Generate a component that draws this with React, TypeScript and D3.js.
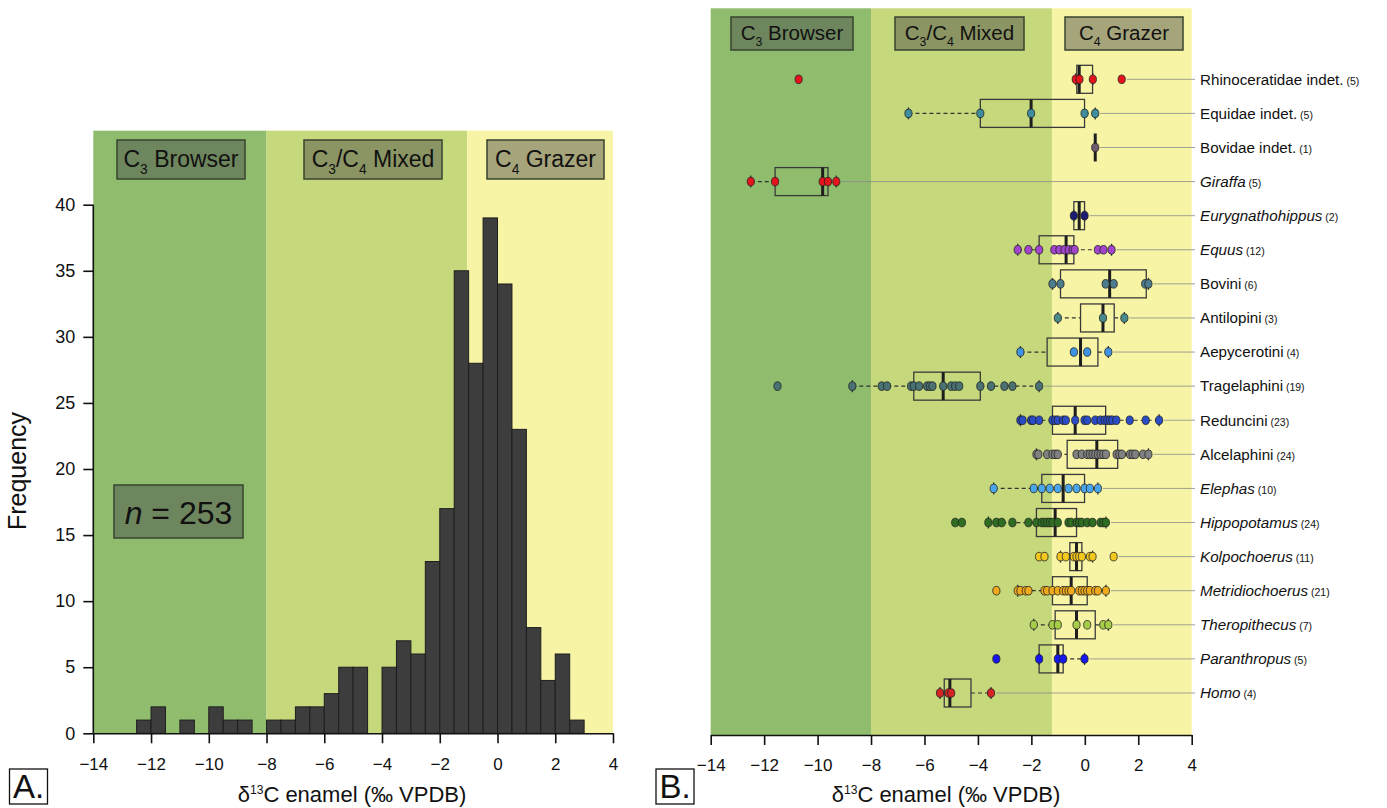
import React, { useRef, useEffect } from 'react'
import * as d3 from 'd3'

const FONT = '"Liberation Sans", Arial, Helvetica, sans-serif'

// ---- panel A: histogram of all d13C values ----
const binLo = [-12.5, -12, -11.5, -11, -10.5, -10, -9.5, -9, -8.5, -8, -7.5, -7, -6.5, -6, -5.5, -5, -4.5, -4, -3.5, -3, -2.5, -2, -1.5, -1, -0.5, 0, 0.5, 1, 1.5, 2, 2.5]
const binCount = [1, 2, 0, 1, 0, 2, 1, 1, 0, 1, 1, 2, 2, 3, 5, 5, 0, 5, 7, 6, 13, 17, 35, 28, 39, 34, 23, 8, 4, 6, 1]
const binWidth = 0.5
const freqTicks = [0, 5, 10, 15, 20, 25, 30, 35, 40]
const d13Ticks = [-14, -12, -10, -8, -6, -4, -2, 0, 2, 4]
const sampleN = 253

// ---- panel B: boxplots per taxon ----
const taxa = ['Rhinoceratidae indet.', 'Equidae indet.', 'Bovidae indet.', 'Giraffa', 'Eurygnathohippus', 'Equus', 'Bovini', 'Antilopini', 'Aepycerotini', 'Tragelaphini', 'Reduncini', 'Alcelaphini', 'Elephas', 'Hippopotamus', 'Kolpochoerus', 'Metridiochoerus', 'Theropithecus', 'Paranthropus', 'Homo']
const taxaN = [5, 5, 1, 5, 2, 12, 6, 3, 4, 19, 23, 24, 10, 24, 11, 21, 7, 5, 4]
const taxaItalic = [false, false, false, true, true, true, false, false, false, false, false, false, true, true, true, true, true, true, true]
const taxaColor = ['#e3141c', '#3e8c9c', '#6b5a6c', '#e3141c', '#1c1c72', '#a244cc', '#4d7c8c', '#4b8a8c', '#3f93e2', '#4a7272', '#2a4cc4', '#808080', '#4aa6ea', '#2f6e22', '#f2c81e', '#eeaa1c', '#a6cc48', '#1616f0', '#d42424']
const boxQ1 = [-0.30, -3.91, 0.39, -11.59, -0.41, -1.71, -0.91, -0.16, -1.41, -6.40, -1.21, -0.66, -1.61, -1.81, -0.56, -1.21, -1.11, -1.71, -5.26]
const boxMed = [-0.21, -2.01, 0.39, -9.81, -0.21, -0.70, 0.93, 0.68, -0.16, -5.30, -0.36, 0.45, -0.81, -1.11, -0.31, -0.51, -0.31, -1.01, -5.05]
const boxQ3 = [0.29, -0.01, 0.39, -9.61, -0.01, -0.41, 2.30, 1.10, 0.49, -3.91, 0.78, 1.23, -0.01, -0.31, -0.11, 0.09, 0.39, -0.81, -4.26]
const whiskLo = [-0.34, -6.60, 0.39, -12.50, -0.41, -2.51, -1.21, -1.01, -2.41, -8.70, -2.41, -1.81, -3.41, -3.61, -0.91, -2.51, -1.91, -1.71, -5.42]
const whiskHi = [0.30, 0.39, 0.39, -9.30, -0.01, 1.00, 2.38, 1.48, 0.88, -1.71, 2.78, 2.38, 0.49, 0.79, 0.29, 0.79, 0.88, -0.01, -3.51]
const taxaValues = [
  [-10.71, -0.34, -0.20, 0.30, 1.38],
  [-6.60, -3.91, -2.01, -0.01, 0.39],
  [0.39],
  [-12.50, -11.59, -9.81, -9.61, -9.30],
  [-0.41, -0.01],
  [-2.51, -2.11, -1.71, -1.14, -0.95, -0.76, -0.60, -0.46, -0.38, 0.49, 0.70, 1.00],
  [-1.21, -0.91, 0.78, 1.08, 2.26, 2.38],
  [-1.01, 0.68, 1.48],
  [-2.41, -0.41, 0.09, 0.88],
  [-11.50, -8.70, -7.60, -7.40, -6.50, -6.40, -6.20, -5.90, -5.80, -5.70, -5.30, -5.00, -4.85, -4.70, -3.91, -3.51, -3.01, -2.71, -1.71],
  [-2.41, -2.33, -2.01, -1.94, -1.71, -1.21, -1.11, -1.01, -0.81, -0.71, -0.36, -0.01, 0.09, 0.39, 0.59, 0.74, 0.84, 0.94, 1.03, 1.18, 1.68, 2.28, 2.78],
  [-1.81, -1.74, -1.41, -1.21, -1.11, -1.01, -0.31, -0.11, 0.09, 0.19, 0.29, 0.39, 0.49, 0.59, 0.69, 0.79, 1.19, 1.29, 1.39, 1.69, 1.79, 1.89, 2.18, 2.38],
  [-3.41, -1.91, -1.61, -1.31, -1.01, -0.61, -0.31, -0.01, 0.19, 0.49],
  [-4.85, -4.60, -3.61, -3.31, -3.11, -2.71, -2.11, -1.81, -1.61, -1.51, -1.41, -1.31, -1.21, -1.01, -0.61, -0.51, -0.31, -0.21, -0.11, 0.09, 0.29, 0.59, 0.69, 0.79],
  [-1.71, -1.51, -0.91, -0.71, -0.41, -0.31, -0.21, -0.11, 0.19, 0.29, 1.08],
  [-3.31, -2.51, -2.41, -2.21, -2.11, -1.51, -1.41, -1.21, -1.01, -0.81, -0.71, -0.61, -0.51, -0.21, -0.11, -0.01, 0.09, 0.19, 0.39, 0.49, 0.79],
  [-1.91, -1.21, -1.01, -0.31, 0.09, 0.69, 0.88],
  [-3.31, -1.71, -1.01, -0.81, -0.01],
  [-5.42, -5.10, -5.00, -3.51],
]

// diet zones (lower bound, upper bound) - grazer boundary drawn a little differently in each panel
const zoneColor = ['#8fbd6d', '#c6d87c', '#f7f5a5']
const zonesA = [[-14, -8], [-8, -1.05], [-1.05, 4]]
const zonesB = [[-14, -8], [-8, -1.23], [-1.23, 4]]

type Sel = d3.Selection<any, unknown, null, undefined>

// label box with "C3 Browser" style subscripts
function dietBox(g: Sel, x0: number, x1: number, y0: number, y1: number, parts: [string, boolean][], size: number) {
  g.append('rect')
    .attr('x', x0).attr('y', y0)
    .attr('width', x1 - x0).attr('height', y1 - y0)
    .attr('fill', '#4c4c4c').attr('fill-opacity', 0.48)
    .attr('stroke', '#38432f').attr('stroke-width', 1.5)
  const t = g.append('text')
    .attr('x', (x0 + x1) / 2)
    .attr('y', (y0 + y1) / 2 + size * 0.34)
    .attr('text-anchor', 'middle')
    .attr('font-size', size)
    .attr('fill', '#111')
  let down = false
  parts.forEach(([s, sub]) => {
    const sp = t.append('tspan').text(s)
    if (sub) {
      sp.attr('font-size', size * 0.6).attr('dy', size * 0.28)
      down = true
    } else if (down) {
      sp.attr('dy', -size * 0.28)
      down = false
    }
  })
}

function xLabel(g: Sel, cx: number, y: number, size: number) {
  const t = g.append('text')
    .attr('x', cx).attr('y', y)
    .attr('text-anchor', 'middle')
    .attr('font-size', size)
    .attr('fill', '#111')
  t.append('tspan').text('δ')
  t.append('tspan').text('13').attr('font-size', size * 0.55).attr('dy', -size * 0.38)
  t.append('tspan').text('C enamel (‰ VPDB)').attr('dy', size * 0.38)
}

function panelTag(g: Sel, x: number, y: number, s: string) {
  g.append('rect').attr('x', x).attr('y', y).attr('width', 38).attr('height', 35)
    .attr('fill', 'white').attr('stroke', '#111').attr('stroke-width', 1.3)
  g.append('text').attr('x', x + 19).attr('y', y + 29).attr('text-anchor', 'middle')
    .attr('font-size', 33).attr('fill', '#111').text(s)
}

function drawHistogram(svg: Sel) {
  const g = svg.append('g')
  const x = d3.scaleLinear().domain([-14, 4]).range([93.3, 613])
  const y = d3.scaleLinear().domain([0, 45.6]).range([733.3, 130.7])

  // zones
  g.selectAll('rect.zone')
    .data(zonesA)
    .join('rect')
    .attr('class', 'zone')
    .attr('x', (d) => x(d[0]))
    .attr('width', (d) => x(d[1]) - x(d[0]))
    .attr('y', y(45.6))
    .attr('height', y(0) - y(45.6))
    .attr('fill', (d, i) => zoneColor[i])

  dietBox(g, 117, 245, 140, 179, [['C', false], ['3', true], [' Browser', false]], 23)
  dietBox(g, 304, 442, 140, 179, [['C', false], ['3', true], ['/C', false], ['4', true], [' Mixed', false]], 23)
  dietBox(g, 487, 604, 140, 179, [['C', false], ['4', true], [' Grazer', false]], 23)

  // bars
  g.append('g')
    .selectAll('rect')
    .data(binCount)
    .join('rect')
    .attr('x', (d, i) => x(binLo[i]))
    .attr('width', (d, i) => x(binLo[i] + binWidth) - x(binLo[i]))
    .attr('y', (d) => y(d))
    .attr('height', (d) => y(0) - y(d))
    .attr('fill', '#3d3d3d')
    .attr('stroke', '#1e1e1e')
    .attr('stroke-width', 1)
    .attr('display', (d) => (d > 0 ? null : 'none'))

  // x axis
  const xa = g.append('g')
    .attr('transform', 'translate(0,' + y(0) + ')')
    .call(d3.axisBottom(x).tickValues(d13Ticks).tickSize(10).tickPadding(15).tickSizeOuter(0))
  xa.selectAll('text').attr('font-size', 17).attr('font-family', FONT).attr('fill', '#111')
  xa.selectAll('line, path').attr('stroke', '#111').attr('stroke-width', 1.6)

  // y axis, line only up to 40
  const ya = g.append('g')
    .attr('transform', 'translate(' + x(-14) + ',0)')
    .call(d3.axisLeft(y).tickValues(freqTicks).tickSize(10).tickPadding(8))
  ya.select('.domain').remove()
  ya.append('line').attr('y1', y(0)).attr('y2', y(40)).attr('stroke', '#111').attr('stroke-width', 1.6)
  ya.selectAll('text').attr('font-size', 18).attr('font-family', FONT).attr('fill', '#111')
  ya.selectAll('line').attr('stroke', '#111').attr('stroke-width', 1.6)

  g.append('text')
    .attr('transform', 'translate(26,471) rotate(-90)')
    .attr('text-anchor', 'middle')
    .attr('font-size', 25)
    .attr('fill', '#111')
    .text('Frequency')

  xLabel(g, 352, 802, 22)

  // n box
  g.append('rect').attr('x', 114).attr('y', 485).attr('width', 129).attr('height', 53)
    .attr('fill', '#4c4c4c').attr('fill-opacity', 0.48)
    .attr('stroke', '#38432f').attr('stroke-width', 1.5)
  const nt = g.append('text').attr('x', 178.5).attr('y', 524).attr('text-anchor', 'middle')
    .attr('font-size', 32).attr('fill', '#111')
  nt.append('tspan').attr('font-style', 'italic').text('n')
  nt.append('tspan').text(' = ' + sampleN)

  panelTag(g, 9.5, 769, 'A.')
}

function drawBoxplots(svg: Sel) {
  const g = svg.append('g')
  const x = d3.scaleLinear().domain([-14, 4]).range([710.7, 1191.7])
  const row = d3.scalePoint().domain(taxa).range([79.3, 693])
  const top = 8.3
  const bottom = 735
  const half = 14

  g.selectAll('rect.zone')
    .data(zonesB)
    .join('rect')
    .attr('class', 'zone')
    .attr('x', (d) => x(d[0]))
    .attr('width', (d) => x(d[1]) - x(d[0]))
    .attr('y', top)
    .attr('height', bottom - top)
    .attr('fill', (d, i) => zoneColor[i])

  dietBox(g, 731, 853, 17, 50, [['C', false], ['3', true], [' Browser', false]], 20.5)
  dietBox(g, 895, 1024, 17, 50, [['C', false], ['3', true], ['/C', false], ['4', true], [' Mixed', false]], 20.5)
  dietBox(g, 1065, 1183, 17, 50, [['C', false], ['4', true], [' Grazer', false]], 20.5)

  taxa.forEach((name, i) => {
    const cy = row(name) as number
    const vals = taxaValues[i]
    const rg = g.append('g')

    // leader line to label
    rg.append('line')
      .attr('x1', x(d3.max(vals) as number) + 5).attr('x2', 1195)
      .attr('y1', cy).attr('y2', cy)
      .attr('stroke', '#8a8a8a').attr('stroke-width', 0.8)

    // whiskers
    rg.selectAll('line.whisk')
      .data([[whiskLo[i], boxQ1[i]], [boxQ3[i], whiskHi[i]]])
      .join('line')
      .attr('class', 'whisk')
      .attr('x1', (d) => x(d[0])).attr('x2', (d) => x(d[1]))
      .attr('y1', cy).attr('y2', cy)
      .attr('stroke', '#333').attr('stroke-width', 1.2)
      .attr('stroke-dasharray', '4,3')

    // caps
    rg.selectAll('line.cap')
      .data([whiskLo[i], whiskHi[i]])
      .join('line')
      .attr('class', 'cap')
      .attr('x1', (d) => x(d)).attr('x2', (d) => x(d))
      .attr('y1', cy - 6).attr('y2', cy + 6)
      .attr('stroke', '#333').attr('stroke-width', 1.3)

    // box
    if (boxQ3[i] > boxQ1[i]) {
      rg.append('rect')
        .attr('x', x(boxQ1[i])).attr('width', x(boxQ3[i]) - x(boxQ1[i]))
        .attr('y', cy - half).attr('height', half * 2)
        .attr('fill', 'none').attr('stroke', '#3a3a3a').attr('stroke-width', 1.3)
    }
    rg.append('line')
      .attr('x1', x(boxMed[i])).attr('x2', x(boxMed[i]))
      .attr('y1', cy - half).attr('y2', cy + half)
      .attr('stroke', '#1e1e1e').attr('stroke-width', 3)

    // points
    rg.selectAll('ellipse')
      .data(vals)
      .join('ellipse')
      .attr('cx', (d) => x(d))
      .attr('cy', cy)
      .attr('rx', 3.6)
      .attr('ry', 4.3)
      .attr('fill', taxaColor[i])
      .attr('stroke', '#222')
      .attr('stroke-width', 0.8)

    // label
    const t = g.append('text').attr('x', 1200).attr('y', cy + 5.3).attr('fill', '#111').attr('font-size', 15.2)
    t.append('tspan').attr('font-style', taxaItalic[i] ? 'italic' : 'normal').text(name)
    t.append('tspan').attr('font-size', 10.5).text(' (' + taxaN[i] + ')')
  })

  const xa = g.append('g')
    .attr('transform', 'translate(0,' + bottom + ')')
    .call(d3.axisBottom(x).tickValues(d13Ticks).tickSize(10).tickPadding(14).tickSizeOuter(0))
  xa.selectAll('text').attr('font-size', 17).attr('font-family', FONT).attr('fill', '#111')
  xa.selectAll('line, path').attr('stroke', '#111').attr('stroke-width', 1.6)

  xLabel(g, 946, 802, 22)

  panelTag(g, 656, 769, 'B.')
}

export default function App() {
  const chart = useRef<SVGSVGElement>(null)

  useEffect(() => {
    const svg = d3.select(chart.current) as Sel
    svg.selectAll('*').remove()
    drawHistogram(svg)
    drawBoxplots(svg)
  }, [])

  return (
    <div style={{ position: 'absolute', left: 0, top: 0 }}>
      <svg ref={chart} width={1387} height={808} style={{ display: 'block', fontFamily: FONT, background: 'white' }}></svg>
    </div>
  )
}
